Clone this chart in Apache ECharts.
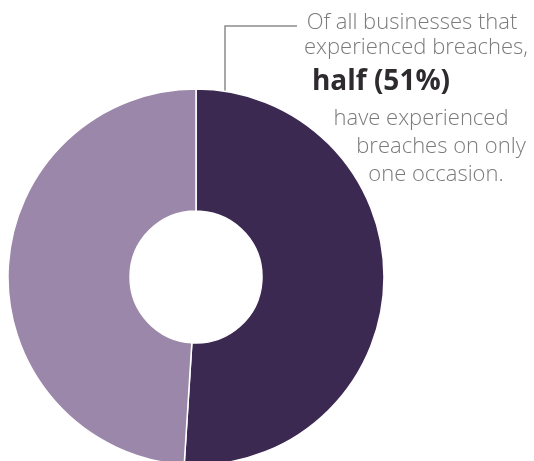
<!DOCTYPE html>
<html>
<head>
<meta charset="utf-8">
<script src="https://cdn.jsdelivr.net/npm/echarts@6/dist/echarts.min.js"></script>
<style>
  html, body { margin: 0; padding: 0; background: #ffffff; }
  #chart { width: 534px; height: 461px; }
</style>
</head>
<body>
<div id="chart"></div>
<script>
// Share of breached businesses by number of breach occasions
const categories = ['Only one occasion', 'More than one occasion'];
const shares = [51, 49];
const sliceColors = ['#3b2952', '#9b87a9'];

// Annotation copy, one entry per line
const noteLines = [
  'Of all businesses that',
  'experienced breaches,',
  'half (51%)',
  'have experienced',
  'breaches on only',
  'one occasion.'
];
const noteBold = [false, false, true, false, false, false];
const noteX = [412, 416, 381, 421, 441, 436];
const noteY = [23, 48, 82, 119, 147, 175];

const chart = echarts.init(document.getElementById('chart'), null, { renderer: 'canvas' });

const textEls = noteLines.map((line, i) => ({
  type: 'text',
  x: noteX[i],
  y: noteY[i],
  style: {
    text: line,
    fill: noteBold[i] ? '#2e2a2e' : '#7b7b7b',
    font: noteBold[i]
      ? 'bold 28px "Open Sans", sans-serif'
      : '300 22px "Open Sans", sans-serif',
    align: 'center',
    verticalAlign: 'middle'
  }
}));

chart.setOption({
  animation: false,
  backgroundColor: '#ffffff',
  series: [{
    type: 'pie',
    center: [196, 277],
    radius: [66, 188],
    startAngle: 90,
    clockwise: true,
    silent: true,
    label: { show: false },
    labelLine: { show: false },
    itemStyle: { borderColor: '#ffffff', borderWidth: 1.5 },
    data: categories.map((name, i) => ({
      name,
      value: shares[i],
      itemStyle: { color: sliceColors[i] }
    }))
  }],
  graphic: [
    {
      type: 'polyline',
      shape: { points: [[225, 91], [225, 26], [297, 26]] },
      style: { stroke: '#8c8c8c', lineWidth: 1.5, fill: null }
    },
    ...textEls
  ]
});
</script>
</body>
</html>
